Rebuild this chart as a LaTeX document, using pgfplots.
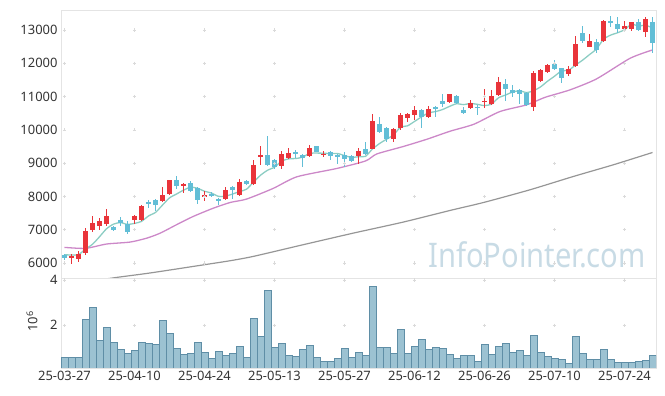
\documentclass[border=0pt]{standalone}
\usepackage{pgfplots}
\pgfplotsset{compat=1.18}
\usepackage{pgfplotstable}
\usepackage{fontspec}
\setmainfont{Noto Sans}
\definecolor{upc}{RGB}{233,52,58}
\definecolor{dnc}{RGB}{98,190,214}
\definecolor{maA}{RGB}{140,205,195}
\definecolor{maB}{RGB}{204,136,200}
\definecolor{maC}{RGB}{150,150,150}
\definecolor{volf}{RGB}{156,194,210}
\definecolor{vold}{RGB}{95,142,166}
\definecolor{framec}{RGB}{228,228,228}
\definecolor{gridc}{RGB}{218,218,218}
\definecolor{txt}{RGB}{51,51,51}
\definecolor{wm}{RGB}{200,219,229}

\pgfplotstableread{
i o h l c
1 6140 6280 5980 6220
2 6120 6350 6030 6280
3 6300 7050 6230 6970
4 6980 7400 6930 7200
5 7100 7350 7000 7270
6 7160 7620 7120 7420
10 7280 7450 7170 7420
11 7280 7750 7250 7720
14 7850 8280 7830 8030
15 8080 8500 8050 8500
17 8320 8400 8100 8380
20 8000 8150 7850 8050
23 7930 8280 7900 8200
25 8030 8520 8000 8420
27 8370 9100 8350 8950
28 9180 9500 8950 9230
31 8900 9350 8830 9280
32 9140 9450 9120 9300
35 9200 9530 9170 9450
37 9250 9350 9180 9280
42 9220 9450 8980 9370
44 9430 10470 9420 10280
47 9730 10050 9630 10020
48 10050 10500 10000 10440
49 10350 10520 10250 10480
50 10450 10720 10300 10600
52 10400 10720 10350 10630
55 10830 11070 10800 11070
58 10670 10900 10620 10800
60 10830 11220 10650 10880
61 10780 11200 10750 11020
62 11050 11580 11030 11450
67 10700 11780 10570 11720
68 11470 11820 11450 11800
69 11750 11970 11720 11950
72 11680 11920 11620 11820
73 11920 12820 11900 12580
75 12500 12870 12480 12670
77 12680 13300 12630 13270
80 13040 13280 12950 13120
81 13030 13230 12980 13230
83 12930 13380 12800 13330
}\upt

\pgfplotstableread{
i o h l c
0 6250 6280 6100 6140
7 7080 7120 6960 6980
8 7300 7380 7120 7200
9 7170 7270 6880 6930
12 7820 7900 7650 7800
13 7900 7920 7550 7730
16 8500 8600 8220 8300
18 8390 8470 8140 8170
19 8250 8280 7780 7880
21 8080 8130 7980 8030
22 7930 7950 7730 7880
24 8270 8300 7930 8200
26 8470 8490 8340 8380
29 9250 9820 8900 8950
30 9100 9120 8830 8880
33 9340 9400 9150 9280
34 9240 9280 8880 9150
36 9520 9520 9320 9330
38 9340 9350 9100 9220
39 9230 9270 8970 9170
40 9230 9330 8880 9130
41 9220 9250 9030 9070
43 9420 9640 9250 9280
45 10180 10380 9900 9940
46 10060 10080 9650 9720
51 10600 10620 10070 10400
53 10680 10720 10380 10630
54 10880 11070 10700 10790
56 11030 11050 10780 10800
57 10600 10700 10480 10500
59 10700 10740 10450 10660
63 11380 11520 10880 11220
64 11200 11350 11000 11100
65 11200 11230 10780 11080
66 11120 11150 10720 10750
70 11980 12100 11800 11830
71 11850 11870 11400 11550
74 12900 13120 12620 12680
76 12650 12720 12300 12400
78 13270 13420 13080 13200
79 13180 13400 12920 13040
82 13230 13320 12970 13000
84 13230 13380 12320 12620
}\dnt

\pgfplotstableread{
i v
0 6250
1 6240
2 6250
3 6420
4 6562
5 6788
6 7028
7 7168
8 7214
9 7160
10 7190
11 7250
12 7414
13 7520
14 7740
15 7956
16 8072
17 8188
18 8276
19 8246
20 8156
21 8102
22 8002
23 8008
24 8072
25 8146
26 8216
27 8430
28 8636
29 8786
30 8878
31 9058
32 9128
33 9138
34 9178
35 9292
36 9302
37 9298
38 9286
39 9290
40 9226
41 9174
42 9192
43 9204
44 9426
45 9588
46 9718
47 9848
48 10080
49 10120
50 10252
51 10388
52 10510
53 10548
54 10610
55 10704
56 10784
57 10758
58 10792
59 10766
60 10728
61 10772
62 10962
63 11046
64 11134
65 11174
66 11120
67 11174
68 11290
69 11460
70 11610
71 11770
72 11790
73 11946
74 12092
75 12260
76 12430
77 12720
78 12844
79 12916
80 13006
81 13172
82 13118
83 13144
84 13060
}\mafive

\pgfplotstableread{
i v
0 6470
3 6440
6 6570
9.4 6630
11.8 6750
13.7 6900
16 7150
18.4 7400
21.3 7650
23.7 7820
26 7920
29.8 8240
33.2 8590
38.9 8840
43 9065
44.6 9275
48.4 9500
51.8 9720
55.1 9960
58.5 10170
62.2 10550
66 10750
68.7 10980
72.2 11200
76 11530
80.8 12150
84 12400
}\matwenty

\pgfplotstableread{
i v
0 5340
7.2 5560
12.2 5700
19.4 5930
23.7 6070
27 6200
34.1 6550
41.3 6900
48.4 7230
55.1 7580
59.9 7820
66.5 8200
72.7 8600
78.4 8950
84 9320
}\malong

\pgfplotstableread{
i v
0 0.56
1 0.56
2 0.56
3 2.25
4 2.79
5 1.33
6 1.90
7 1.24
8 0.92
9 0.76
10 0.89
11 1.24
12 1.20
13 1.16
14 2.21
15 1.64
16 0.96
17 0.71
18 0.76
19 1.24
20 0.80
21 0.53
22 0.84
23 0.67
24 0.76
25 1.05
26 0.56
27 2.30
28 1.51
29 3.54
30 1.01
31 1.19
32 0.65
33 0.62
34 0.92
35 1.10
36 0.56
37 0.40
38 0.40
39 0.52
40 0.96
41 0.56
42 0.79
43 0.65
44 3.73
45 1.01
46 1.01
47 0.74
48 1.81
49 0.74
50 1.05
51 1.36
52 0.92
53 1.01
54 0.96
55 0.70
56 0.52
57 0.65
58 0.65
59 0.39
60 1.14
61 0.70
62 1.05
63 1.19
64 0.79
65 0.87
66 0.65
67 1.54
68 0.79
69 0.61
70 0.52
71 0.47
72 0.30
73 1.50
74 0.74
75 0.47
76 0.47
77 0.92
78 0.47
79 0.34
80 0.34
81 0.34
82 0.39
83 0.43
84 0.65
}\vol

\pgfplotsset{
  panel/.style={
    scale only axis, anchor=south west, width=595bp,
    xmin=-0.5, xmax=84.5,
    axis line style={draw=framec, line width=0.8bp},
    major tick length=0pt, minor tick num=0,
    scaled y ticks=false, scaled x ticks=false,
    tick label style={font=\fontsize{13}{15}\selectfont, text=txt},
    clip=true,
  },
  candle/.style={draw=none, mark=none, forget plot,
    error bars/.cd, y dir=both, y explicit, error mark=none,
    error bar style={draw=#1, line width=1bp}},
  body/.style={draw=none, mark=none, forget plot,
    error bars/.cd, y dir=both, y explicit, error mark=none,
    error bar style={draw=#1, line width=5bp}},
}

\begin{document}
\begin{tikzpicture}
\path[use as bounding box] (0,0) rectangle (665bp,396bp);
% price panel
\begin{axis}[panel,
  at={(61bp,118bp)}, height=268bp,
  ymin=5550, ymax=13600,
  xtick={0,10,...,80}, xticklabels={},
  ytick={6000,7000,...,13000},
  yticklabels={6000,7000,8000,9000,10000,11000,12000,13000},
]
\pgfplotsinvokeforeach{6000,7000,...,13000}{
  \addplot[only marks, mark=+, mark size=1.6bp, gridc, line width=0.6bp]
    coordinates {(0,#1)(10,#1)(20,#1)(30,#1)(40,#1)(50,#1)(60,#1)(70,#1)(80,#1)};
}
\node[font=\fontsize{34}{34}\selectfont, text=wm, xscale=0.86] at (rel axis cs:0.80,0.085) {InfoPointer.com};
\addplot[maC, line width=1.2bp, smooth, tension=0.4] table[x=i,y=v]{\malong};
\addplot[maB, line width=1.3bp, smooth, tension=0.4] table[x=i,y=v]{\matwenty};
\addplot[maA, line width=1.3bp, smooth, tension=0.4] table[x=i,y=v]{\mafive};
% wicks
\addplot[candle=upc]
  table[x=i, y expr={(\thisrow{h}+\thisrow{l})/2}, y error expr={(\thisrow{h}-\thisrow{l})/2}]{\upt};
\addplot[candle=dnc]
  table[x=i, y expr={(\thisrow{h}+\thisrow{l})/2}, y error expr={(\thisrow{h}-\thisrow{l})/2}]{\dnt};
% bodies
\addplot[body=upc]
  table[x=i, y expr={(\thisrow{o}+\thisrow{c})/2}, y error expr={max(abs(\thisrow{c}-\thisrow{o})/2,20)}]{\upt};
\addplot[body=dnc]
  table[x=i, y expr={(\thisrow{o}+\thisrow{c})/2}, y error expr={max(abs(\thisrow{c}-\thisrow{o})/2,20)}]{\dnt};
\end{axis}
% volume panel
\begin{axis}[panel,
  at={(61bp,28bp)}, height=90bp,
  ymin=0.1, ymax=4.09,
  xtick={0,10,...,80},
  xticklabels={25-03-27,25-04-10,25-04-24,25-05-13,25-05-27,25-06-12,25-06-26,25-07-10,25-07-24},
  ytick={2,4}, yticklabels={2,4},
  ylabel={10\textsuperscript{6}},
  every axis y label/.style={at={(axis description cs:-0.0487,0.52)}, anchor=center, rotate=90,
    font=\fontsize{13}{15}\selectfont, text=txt},
]
\addplot[only marks, mark=+, mark size=1.6bp, gridc, line width=0.6bp]
  coordinates {(0,2)(10,2)(20,2)(30,2)(40,2)(50,2)(60,2)(70,2)(80,2)
               (0,4)(10,4)(20,4)(30,4)(40,4)(50,4)(60,4)(70,4)(80,4)};
\addplot[ybar, bar width=1, fill=volf, draw=vold, line width=0.7bp] table[x=i,y=v]{\vol};
\end{axis}
\end{tikzpicture}
\end{document}
